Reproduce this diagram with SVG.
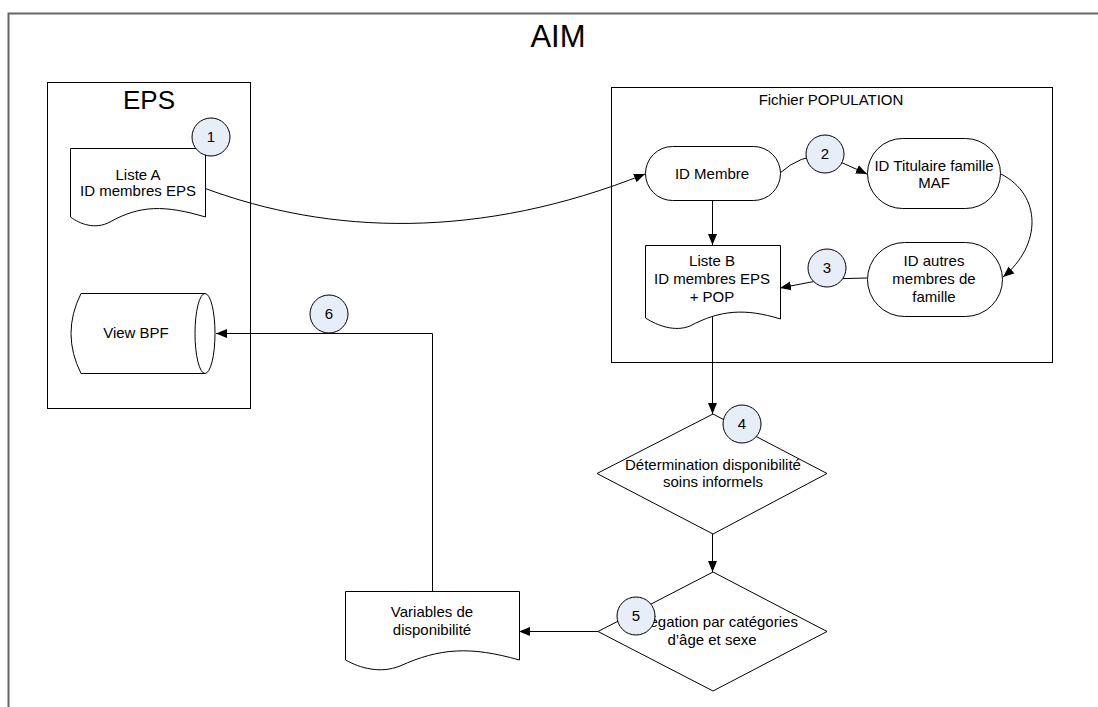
<svg xmlns="http://www.w3.org/2000/svg" width="1098" height="707" viewBox="0 0 1098 707">
<defs>
<marker id="arr" markerWidth="12" markerHeight="10" refX="11" refY="5" orient="auto" markerUnits="userSpaceOnUse">
<path d="M0,0.5 L11,5 L0,9.5 Z" fill="#000"/>
</marker>
<style>
.sh{fill:#fff;stroke:#000;stroke-width:1}
.box{fill:none;stroke:#000;stroke-width:1}
.cn{fill:none;stroke:#000;stroke-width:1}
.t{font-family:"Liberation Sans",Arial,sans-serif;font-size:15px;fill:#000;text-anchor:middle}
.num{fill:#e8eef8;stroke:#000;stroke-width:1}
</style>
</defs>
<rect width="1098" height="707" fill="#fff"/>
<g id="frame">
<rect x="8.5" y="13.5" width="1100" height="700" fill="none" stroke="#666" stroke-width="2"/>
<text class="t" x="558" y="47" style="font-size:31px">AIM</text>
</g>
<g id="eps-box">
<rect class="box" x="47.5" y="82.5" width="203" height="326"/>
<text class="t" x="149" y="109" style="font-size:26px">EPS</text>
</g>
<g id="pop-box">
<rect class="box" x="611.5" y="87.5" width="441" height="275"/>
<text class="t" x="831" y="105">Fichier POPULATION</text>
</g>
<g id="connectors">
<path class="cn" d="M204,188 C330,235 480,240 645,174" marker-end="url(#arr)"/>
<path class="cn" d="M780,173 Q800,155 825,155 L867,174" marker-end="url(#arr)"/>
<path class="cn" d="M1001,174 C1042,195 1042,245 1003,277" marker-end="url(#arr)"/>
<path class="cn" d="M712.5,200 L712.5,245" marker-end="url(#arr)"/>
<path class="cn" d="M867,278 L827,279 L780,288" marker-end="url(#arr)"/>
<path class="cn" d="M712.5,310 L712.5,414" marker-end="url(#arr)"/>
<path class="cn" d="M712.5,534 L712.5,572" marker-end="url(#arr)"/>
<path class="cn" d="M598,631.5 L519,631.5" marker-end="url(#arr)"/>
<path class="cn" d="M432.5,591 L432.5,333.5 L216,333.5" marker-end="url(#arr)"/>
</g>
<g id="liste-a">
<path class="sh" d="M70.5,148.5 L205.5,148.5 L205.5,217 C165,205 140,205 110,222 C95,230 80,224 70.5,217 Z"/>
<text class="t" x="138" y="180">Liste A</text>
<text class="t" x="138" y="196">ID membres EPS</text>
</g>
<g id="view-bpf">
<path class="sh" d="M81,293.5 L205,293.5 A10,40 0 0 1 205,373.5 L81,373.5 Q61,333.5 81,293.5 Z"/>
<path class="cn" d="M205,293.5 A10,40 0 0 0 205,373.5"/>
<text class="t" x="136" y="338">View BPF</text>
</g>
<g id="id-membre">
<rect class="sh" x="645.5" y="146.5" width="135" height="54" rx="27"/>
<text class="t" x="712" y="179">ID Membre</text>
</g>
<g id="id-titulaire">
<rect class="sh" x="867.5" y="138.5" width="133" height="70" rx="35"/>
<text class="t" x="934" y="171">ID Titulaire famille</text>
<text class="t" x="934" y="188">MAF</text>
</g>
<g id="id-autres">
<rect class="sh" x="867.5" y="242.5" width="135" height="74" rx="37"/>
<text class="t" x="934" y="266">ID autres</text>
<text class="t" x="934" y="284">membres de</text>
<text class="t" x="934" y="302">famille</text>
</g>
<g id="liste-b">
<path class="sh" d="M645.5,245.5 L780.5,245.5 L780.5,319 C745,308 720,310 690,326 C675,332 658,326 645.5,318 Z"/>
<text class="t" x="712" y="266">Liste B</text>
<text class="t" x="712" y="284">ID membres EPS</text>
<text class="t" x="712" y="302">+ POP</text>
</g>
<g id="determination">
<path class="sh" d="M713,414 L827,473.5 L713,534 L597,473.5 Z"/>
<text class="t" x="713" y="470">Détermination disponibilité</text>
<text class="t" x="713" y="487">soins informels</text>
</g>
<g id="agregation">
<path class="sh" d="M713,572 L827,631.5 L713,691 L598,631.5 Z"/>
<text class="t" x="712" y="627">Agrégation par catégories</text>
<text class="t" x="712" y="645">d’âge et sexe</text>
</g>
<g id="variables">
<path class="sh" d="M345.5,591.5 L519.5,591.5 L519.5,660 C470,646 440,648 400,666 C380,674 360,668 345.5,660 Z"/>
<text class="t" x="432" y="617">Variables de</text>
<text class="t" x="432" y="635">disponibilité</text>
</g>
<g id="step-1"><circle class="num" cx="211" cy="137" r="19"/><text class="t" x="211" y="142">1</text></g>
<g id="step-2"><circle class="num" cx="825" cy="154" r="19"/><text class="t" x="825" y="159">2</text></g>
<g id="step-3"><circle class="num" cx="827" cy="268" r="19"/><text class="t" x="827" y="273">3</text></g>
<g id="step-4"><circle class="num" cx="742" cy="424" r="19"/><text class="t" x="742" y="429">4</text></g>
<g id="step-5"><circle class="num" cx="636" cy="616" r="19"/><text class="t" x="636" y="621">5</text></g>
<g id="step-6"><circle class="num" cx="329" cy="314" r="19"/><text class="t" x="329" y="319">6</text></g>
</svg>
